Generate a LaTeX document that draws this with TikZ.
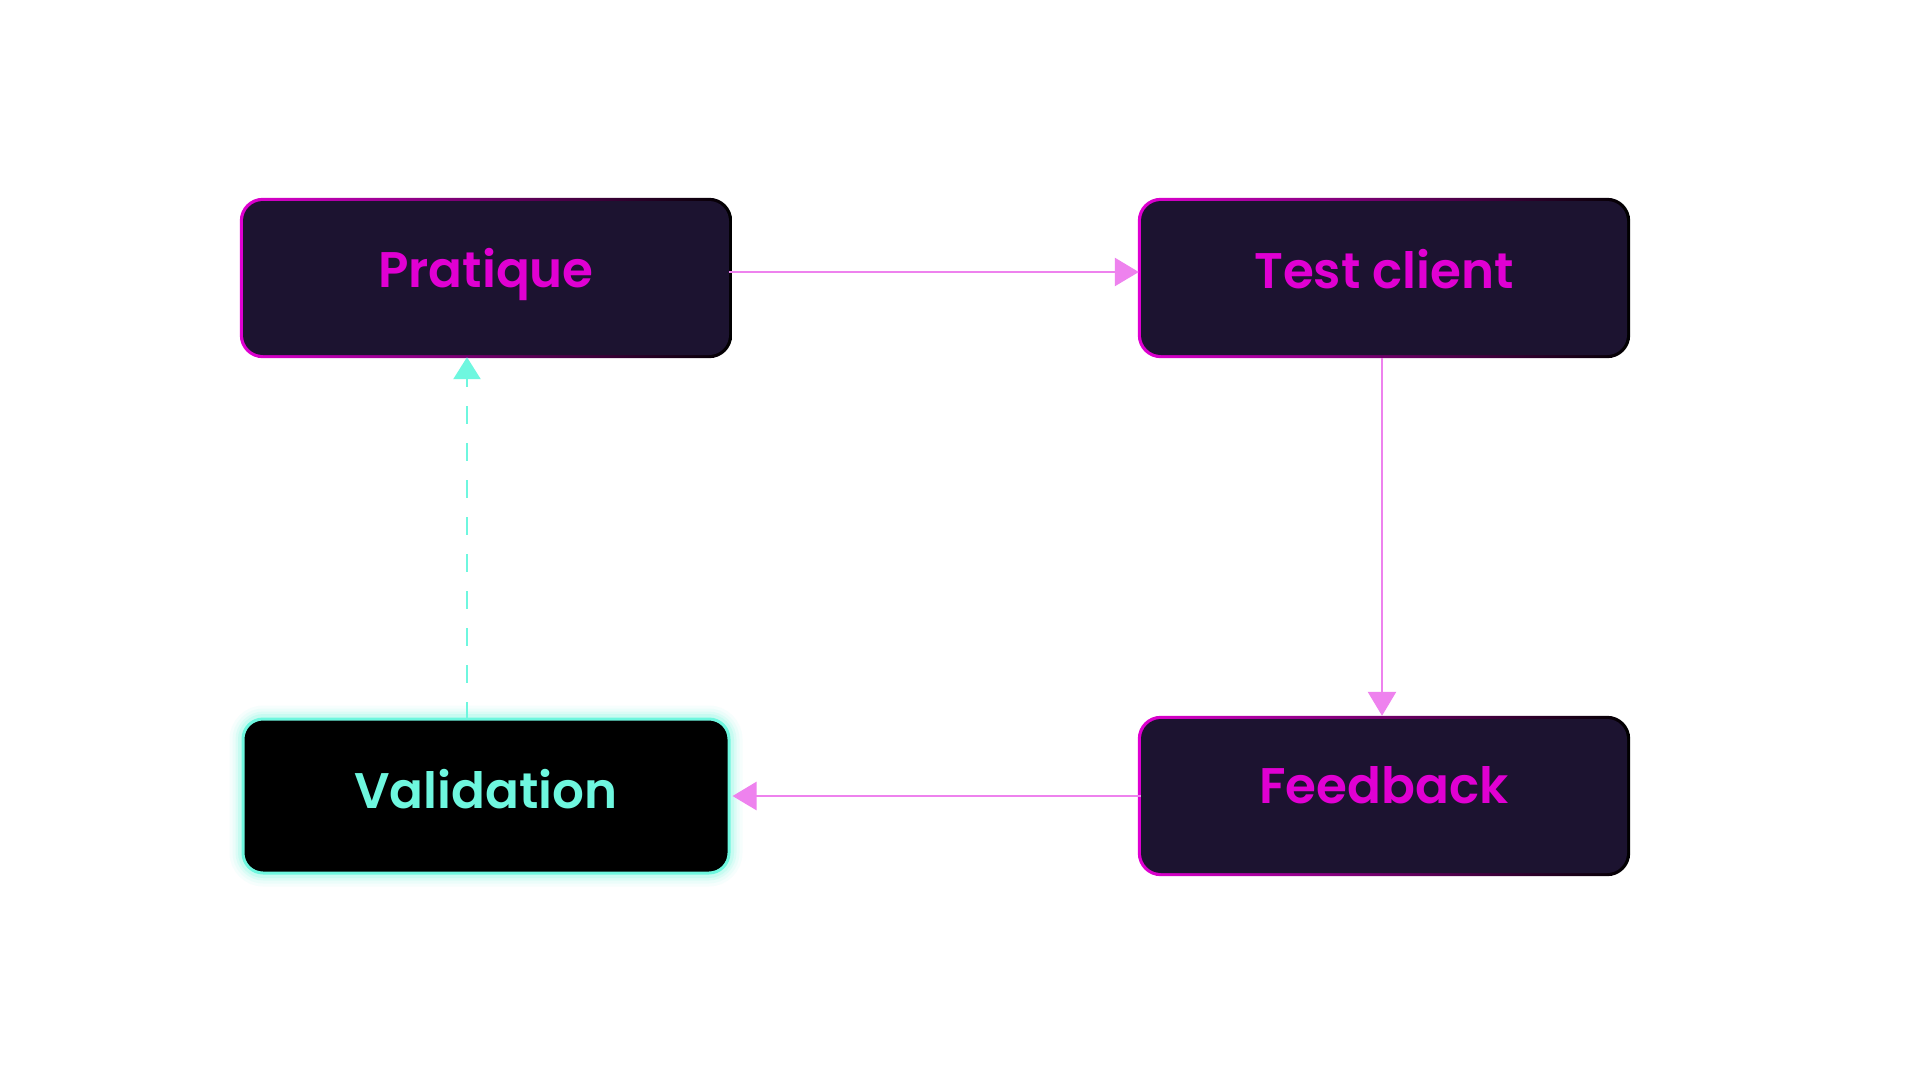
\documentclass[tikz,border=0pt]{standalone}
\usepackage{fontspec}
\setmainfont{Poppins SemiBold}
\usetikzlibrary{arrows.meta,backgrounds,calc}
\definecolor{mag}{HTML}{E000D2}
\definecolor{magmid}{HTML}{80107A}
\definecolor{boxfill}{HTML}{1C1330}
\definecolor{teal}{HTML}{6EF7DF}
\definecolor{arrowpink}{HTML}{EE82EE}
\newcommand{\lbl}[2]{\raisebox{#1}[0pt][0pt]{#2}}
\begin{document}
\begin{tikzpicture}[x=1pt,y=-1pt,
  box/.style={minimum width=486pt, minimum height=154pt, rounded corners=20pt, inner sep=0pt, font=\fontsize{50}{60}\selectfont},
  darkbox/.style={box, fill=boxfill, text=mag},
  greenbox/.style={box, fill=black, draw=teal, line width=3pt, text=teal},
  link/.style={draw=arrowpink, line width=2.6pt, -{Triangle[length=24pt,width=28pt]}},
  back/.style={draw=teal, line width=2.6pt, dash pattern=on 18pt off 19pt, -{Triangle[length=22pt,width=27pt]}}
]
\useasboundingbox (0,0) rectangle (1920,1080);

\node[darkbox] (P) at (486,278) {\lbl{-9pt}{Pratique}};
\node[darkbox] (T) at (1384,278) {\lbl{-10pt}{Test client}};
\node[darkbox] (F) at (1384,796) {\lbl{-7pt}{Feedback}};
\node[greenbox] (V) at (486,796) {\lbl{-12pt}{Validation}};

\begin{scope}[on background layer]
  \fill[white] (0,0) rectangle (1920,1080);
  \foreach \n in {P,T,F}{
    \shade[rounded corners=23pt, left color=mag, middle color=magmid, right color=black]
      ($(\n.north west)+(-3,-3)$) rectangle ($(\n.south east)+(3,3)$);
  }
  \foreach \w/\o in {24/0.06,18/0.08,12/0.12,7/0.18}{
    \draw[teal, line width=\w pt, opacity=\o, rounded corners=22pt]
      (V.north west) rectangle (V.south east);
  }
\end{scope}

\draw[link] ([yshift=6pt]P.east) -- ([yshift=6pt,xshift=-2pt]T.west);
\draw[link] ([xshift=-2pt,yshift=-3pt]T.south) -- ([xshift=-2pt,yshift=3pt]F.north);
\draw[link] (F.west) -- ([xshift=2pt]V.east);
\draw[back] ([xshift=-19pt,yshift=-2pt]V.north) -- ([xshift=-19pt,yshift=-2pt]P.south);
\end{tikzpicture}
\end{document}
